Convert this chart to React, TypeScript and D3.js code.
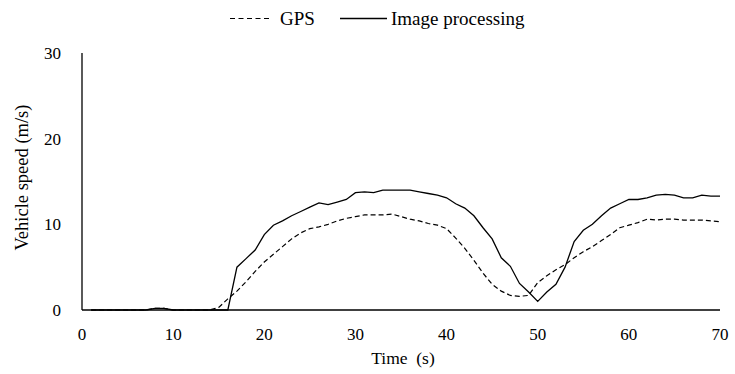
import * as d3 from "d3"

// time in seconds
const time = d3.range(1, 71)

const gpsSpeed = [
  0, 0, 0, 0, 0, 0, 0, 0.2, 0.2, 0,
  0, 0, 0, 0, 0.3, 1.3, 2.2, 3.3, 4.5, 5.6,
  6.5, 7.4, 8.3, 9.0, 9.5, 9.7, 10.0, 10.4, 10.7, 10.9,
  11.1, 11.1, 11.1, 11.2, 10.9, 10.6, 10.4, 10.1, 9.9, 9.5,
  8.4, 7.2, 5.8, 4.3, 3.0, 2.2, 1.7, 1.6, 1.7, 3.2,
  4.0, 4.7, 5.3, 6.1, 6.8, 7.4, 8.1, 8.8, 9.6, 9.9,
  10.2, 10.6, 10.5, 10.6, 10.6, 10.5, 10.5, 10.5, 10.4, 10.3,
]

const imageSpeed = [
  0, 0, 0, 0, 0, 0, 0, 0.2, 0.2, 0,
  0, 0, 0, 0, 0, 0, 5.0, 6.0, 7.0, 8.8,
  9.9, 10.4, 11.0, 11.5, 12.0, 12.5, 12.3, 12.6, 12.9, 13.7,
  13.8, 13.7, 14.0, 14.0, 14.0, 14.0, 13.8, 13.6, 13.4, 13.1,
  12.4, 11.9, 11.0, 9.6, 8.3, 6.1, 5.1, 3.1, 2.1, 1.0,
  2.1, 3.0, 5.0, 8.0, 9.3, 10.0, 11.0, 11.9, 12.4, 12.9,
  12.9, 13.1, 13.4, 13.5, 13.4, 13.1, 13.1, 13.4, 13.3, 13.3,
]

const xTicks = [0, 10, 20, 30, 40, 50, 60, 70]
const yTicks = [0, 10, 20, 30]

const W = 735
const H = 374
const m = { left: 82, right: 15, top: 53, bottom: 64 }
const font = "'Liberation Serif', 'Times New Roman', serif"

export default function App() {
  const x = d3.scaleLinear().domain([0, 70]).range([m.left, W - m.right])
  const y = d3.scaleLinear().domain([0, 30]).range([H - m.bottom, m.top])

  const line = d3
    .line<number>()
    .x((d, i) => x(time[i]))
    .y((d) => y(d))
    .curve(d3.curveLinear)

  return (
    <svg width={W} height={H} style={{ position: "absolute", left: 0, top: 0, background: "#fff", fontFamily: font }}>
      {/* legend */}
      <g fontSize={19} fill="#000">
        <line x1={230} x2={272} y1={18.5} y2={18.5} stroke="#000" strokeWidth={1.2} strokeDasharray="5,3.5" />
        <text x={280} y={25}>GPS</text>
        <line x1={340} x2={387} y1={18.5} y2={18.5} stroke="#000" strokeWidth={1.3} />
        <text x={391} y={25}>Image processing</text>
      </g>

      {/* axes */}
      <line x1={x(0)} x2={x(0)} y1={y(30)} y2={y(0)} stroke="#000" strokeWidth={1.3} />
      <line x1={x(0)} x2={x(70)} y1={y(0)} y2={y(0)} stroke="#000" strokeWidth={1.3} />

      {yTicks.map((t) => (
        <text key={t} x={61} y={y(t)} dy="0.35em" textAnchor="end" fontSize={17}>
          {t}
        </text>
      ))}
      {xTicks.map((t) => (
        <text key={t} x={x(t)} y={y(0) + 30} textAnchor="middle" fontSize={17}>
          {t}
        </text>
      ))}

      <text x={403} y={H - 10} textAnchor="middle" fontSize={17.5}>
        Time{"\u00a0"}{"\u00a0"}(s)
      </text>
      <text
        transform={`translate(28,${(y(0) + y(30)) / 2 - 4}) rotate(-90)`}
        textAnchor="middle"
        fontSize={18.5}
      >
        Vehicle speed (m/s)
      </text>

      {/* series */}
      <path d={line(gpsSpeed) ?? ""} fill="none" stroke="#000" strokeWidth={1.2} strokeDasharray="5,3" />
      <path d={line(imageSpeed) ?? ""} fill="none" stroke="#000" strokeWidth={1.3} />
    </svg>
  )
}
